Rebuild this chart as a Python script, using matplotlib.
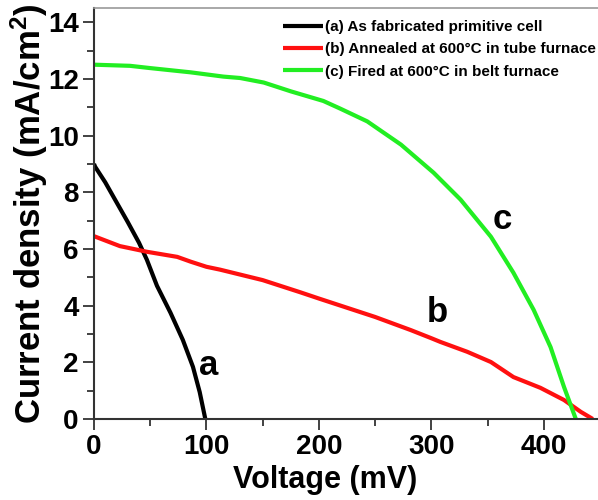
import matplotlib
matplotlib.use("Agg")
import matplotlib.pyplot as plt
from matplotlib.ticker import MultipleLocator
from matplotlib import font_manager

plt.rcParams['font.family'] = ['Liberation Sans', 'DejaVu Sans']
plt.rcParams['font.weight'] = 'bold'
plt.rcParams['mathtext.fontset'] = 'custom'
plt.rcParams['mathtext.rm'] = 'Liberation Sans:bold'
plt.rcParams['mathtext.it'] = 'Liberation Sans:bold'
plt.rcParams['mathtext.bf'] = 'Liberation Sans:bold'
plt.rcParams['mathtext.default'] = 'rm'

names = {f.name for f in font_manager.fontManager.ttflist}
narrow = 'Liberation Sans Narrow' if 'Liberation Sans Narrow' in names else 'Liberation Sans'

# Data
va = [0, 1, 10, 18.7, 30, 40, 47, 56, 68, 79, 88, 94, 99]
ja = [9.0, 8.9, 8.35, 7.74, 6.95, 6.22, 5.62, 4.7, 3.75, 2.79, 1.84, 0.95, 0.0]

vb = [0, 23, 47, 74, 86, 100, 112, 150, 183.5, 200, 250, 281.5, 300, 308, 332, 353, 373, 397, 418, 433, 443.6]
jb = [6.45, 6.1, 5.9, 5.72, 5.55, 5.37, 5.27, 4.9, 4.47, 4.25, 3.6, 3.14, 2.85, 2.72, 2.37, 2.01, 1.48, 1.10, 0.67, 0.25, 0.0]

vc = [0, 32, 50, 86, 115, 130, 151, 175, 204, 219, 243, 273, 302, 326, 353, 373, 391, 406, 418, 428.5]
jc = [12.5, 12.46, 12.38, 12.23, 12.08, 12.03, 11.87, 11.56, 11.22, 10.95, 10.5, 9.68, 8.69, 7.74, 6.43, 5.16, 3.85, 2.54, 1.13, 0.0]

labels = ['(a) As fabricated primitive cell',
          '(b) Annealed at 600°C in tube furnace',
          '(c) Fired at 600°C in belt furnace']
colors = ['black', '#ff1010', '#22ee22']

fig = plt.figure(figsize=(5.98, 5.0), dpi=100)
ax = fig.add_axes([94/598, 1 - 419/500, (600 - 94)/598, (419 - 8)/500])

for v, j, lab, c in zip([va, vb, vc], [ja, jb, jc], labels, colors):
    ax.plot(v, j, color=c, lw=3, label=lab, solid_capstyle='butt', solid_joinstyle='round')

ax.set_xlim(0, 450)
ax.set_ylim(0, 14.5)
ax.xaxis.set_major_locator(MultipleLocator(100))
ax.xaxis.set_minor_locator(MultipleLocator(50))
ax.yaxis.set_major_locator(MultipleLocator(2))
ax.yaxis.set_minor_locator(MultipleLocator(1))
ax.tick_params(which='major', direction='out', length=8, width=1.3, labelsize=20, pad=3, color='#333333')
ax.tick_params(which='minor', direction='out', length=5, width=1.3, color='#333333')
for s in ['left', 'bottom']:
    ax.spines[s].set_linewidth(1.5)
    ax.spines[s].set_color('#333333')
ax.spines['top'].set_linewidth(1.2)
ax.spines['top'].set_color('#999999')
ax.spines['right'].set_visible(False)

ax.set_xlabel('Voltage (mV)', fontsize=22, fontweight='bold', family=[narrow, 'DejaVu Sans'])
ax.xaxis.set_label_coords((325 - 94)/506, (419 - 465)/411)
ax.set_ylabel('Current density (mA/cm$^2$)', fontsize=25, fontweight='bold')
ax.yaxis.set_label_coords((50 - 94)/506, (419 - 214)/411)

ax.text(101.6, 1.9, 'a', fontsize=25, fontweight='bold', ha='center', va='center')
ax.text(305, 3.75, 'b', fontsize=25, fontweight='bold', ha='center', va='center')
ax.text(363.5, 7.05, 'c', fontsize=25, fontweight='bold', ha='center', va='center')

leg = ax.legend(loc='upper left', bbox_to_anchor=((283 - 94)/506, 1 - 12/411), frameon=False,
                fontsize=11, handlelength=2.6, handletextpad=0.15, labelspacing=0.55,
                borderaxespad=0, borderpad=0)
for t in leg.get_texts():
    t.set_fontweight('bold')

fig.savefig('out.png', dpi=100)
